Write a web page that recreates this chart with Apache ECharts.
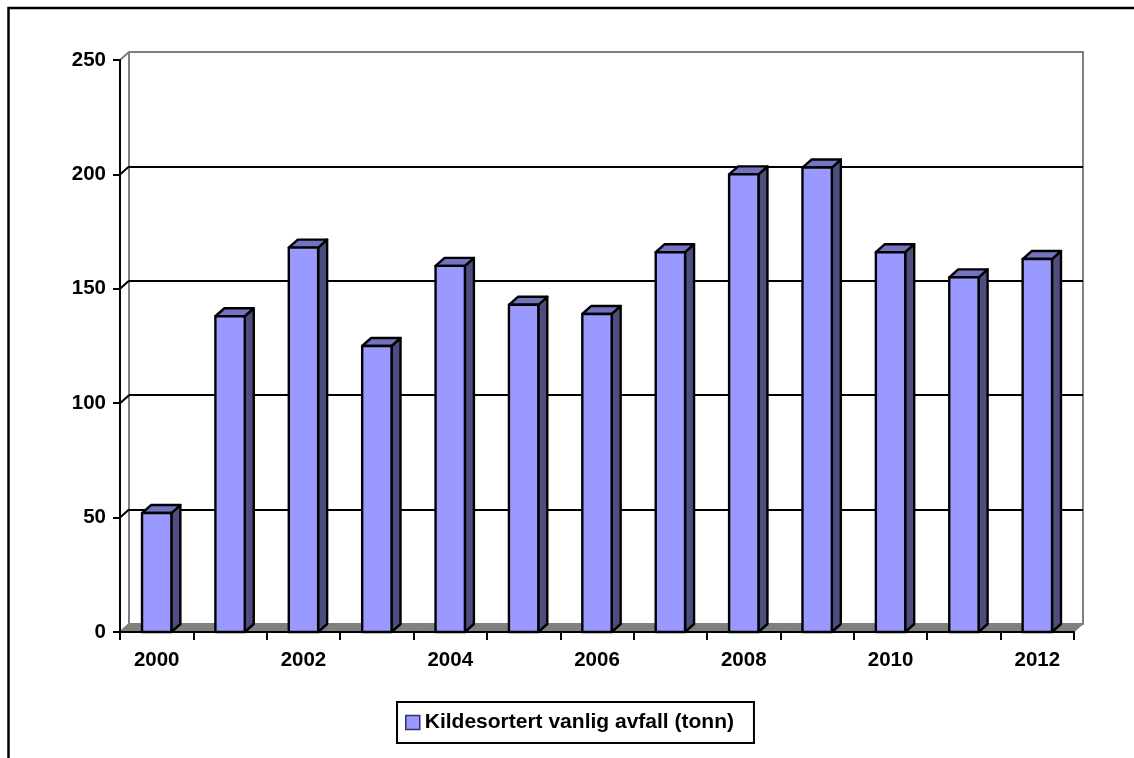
<!DOCTYPE html>
<html>
<head>
<meta charset="utf-8">
<title>Kildesortert vanlig avfall</title>
<script src="https://cdn.jsdelivr.net/npm/echarts@6/dist/echarts.min.js"></script>
<style>
  html, body { margin: 0; padding: 0; background: #fff; }
  #main { width: 1134px; height: 758px; }
</style>
</head>
<body>
<div id="main"></div>
<script>
// data
var years = ['2000', '2001', '2002', '2003', '2004', '2005', '2006', '2007', '2008', '2009', '2010', '2011', '2012'];
var tonn = [52, 138, 168, 125, 160, 143, 139, 166, 200, 203, 166, 155, 163];
var yTicks = [0, 50, 100, 150, 200, 250];
var seriesName = 'Kildesortert vanlig avfall (tonn)';

// depth of the fake 3d
var DX = 9, DY = 8;
var FONT = "'Liberation Sans', Arial, sans-serif";

var chart = echarts.init(document.getElementById('main'));

function barItem(params, api) {
    var x = api.value(0), v = api.value(1);
    var base = api.coord([x, 0]);
    var top = api.coord([x, v]);
    var w = api.size([1, 0])[0] * 0.4;
    var x0 = base[0] - w / 2, x1 = base[0] + w / 2, y0 = base[1], y1 = top[1];
    var st = { stroke: '#000', lineWidth: 2.4, lineJoin: 'round' };
    return {
        type: 'group',
        children: [
            { type: 'polygon', shape: { points: [[x1, y1], [x1 + DX, y1 - DY], [x1 + DX, y0 - DY], [x1, y0]] },
              style: Object.assign({ fill: '#4D4D80' }, st) },
            { type: 'polygon', shape: { points: [[x0, y1], [x0 + DX, y1 - DY], [x1 + DX, y1 - DY], [x1, y1]] },
              style: Object.assign({ fill: '#7373BF' }, st) },
            { type: 'rect', shape: { x: x0, y: y1, width: w, height: y0 - y1 },
              style: Object.assign({ fill: '#9999FF' }, st) }
        ]
    };
}

function floorItem(params, api) {
    var x = api.value(0);
    var c = api.coord([x, 0]);
    var band = api.size([1, 0])[0];
    var x0 = c[0] - band / 2 - 0.5, x1 = c[0] + band / 2 + 0.5, y0 = c[1];
    return {
        type: 'polygon',
        shape: { points: [[x0, y0], [x1, y0], [x1 + DX, y0 - DY], [x0 + DX, y0 - DY]] },
        style: { fill: '#808080', stroke: null }
    };
}

function edgeItem(params, api) {
    var v = api.value(0);
    var c = api.coord([0, v]);
    var band = api.size([1, 0])[0];
    var x0 = c[0] - band / 2;
    var grey = (v === yTicks[0] || v === yTicks[yTicks.length - 1]);
    return {
        type: 'line',
        shape: { x1: x0, y1: c[1], x2: x0 + DX, y2: c[1] - DY },
        style: { stroke: grey ? '#808080' : '#000', lineWidth: 2 }
    };
}

var option = {
    backgroundColor: '#fff',
    animation: false,
    textStyle: { fontFamily: FONT },
    graphic: [{
        type: 'rect', z: 100,
        shape: { x: 8.5, y: 8, width: 1300, height: 900 },
        style: { fill: null, stroke: '#000', lineWidth: 2.5 }
    }],
    legend: {
        left: 397, top: 702,
        padding: [10, 20, 10, 8],
        itemWidth: 14, itemHeight: 14, itemGap: 6,
        borderColor: '#000', borderWidth: 2,
        icon: 'rect',
        textStyle: { fontFamily: FONT, fontSize: 21, fontWeight: 'bold', color: '#000', lineHeight: 20 },
        data: [{ name: seriesName, itemStyle: { color: '#9999FF', borderColor: '#333366', borderWidth: 1.5 } }]
    },
    grid: [
        { left: 120, right: 60, top: 60, bottom: 126 },
        { left: 129, right: 51, top: 52, bottom: 134, show: true, borderColor: '#808080', borderWidth: 2, backgroundColor: 'transparent' }
    ],
    xAxis: [{
        gridIndex: 0, type: 'category', data: years, boundaryGap: true, z: 5,
        axisLine: { lineStyle: { color: '#000', width: 2 } },
        axisTick: { show: true, interval: 0, length: 8, lineStyle: { color: '#000', width: 2 } },
        axisLabel: { interval: 1, margin: 18, color: '#000', fontSize: 20.5, fontWeight: 'bold', fontFamily: FONT }
    }, {
        gridIndex: 1, type: 'category', data: years, show: false
    }],
    yAxis: [{
        gridIndex: 0, type: 'value', min: 0, max: 250, interval: 50, z: 5,
        axisLine: { show: true, lineStyle: { color: '#000', width: 2 } },
        axisTick: { show: true, length: 7, lineStyle: { color: '#000', width: 2 } },
        splitLine: { show: false },
        axisLabel: { margin: 14, color: '#000', fontSize: 20.5, fontWeight: 'bold', fontFamily: FONT }
    }, {
        gridIndex: 1, type: 'value', min: 0, max: 250, interval: 50,
        axisLine: { show: false }, axisTick: { show: false }, axisLabel: { show: false },
        splitLine: { show: true, lineStyle: { color: ['#808080', '#000', '#000', '#000', '#000', '#808080'], width: 2 } }
    }],
    series: [{
        name: 'floor', type: 'custom', xAxisIndex: 0, yAxisIndex: 0, z: 1, silent: true,
        renderItem: floorItem,
        data: years.map(function (y, i) { return [i]; })
    }, {
        name: 'edges', type: 'custom', xAxisIndex: 0, yAxisIndex: 0, z: 1, silent: true,
        renderItem: edgeItem,
        encode: { x: -1, y: 0 },
        data: yTicks.map(function (v) { return [v]; })
    }, {
        name: seriesName, type: 'custom', xAxisIndex: 0, yAxisIndex: 0, z: 3,
        itemStyle: { color: '#9999FF' },
        renderItem: barItem,
        encode: { x: 0, y: 1 },
        data: tonn.map(function (v, i) { return [i, v]; })
    }]
};

chart.setOption(option);
</script>
</body>
</html>
